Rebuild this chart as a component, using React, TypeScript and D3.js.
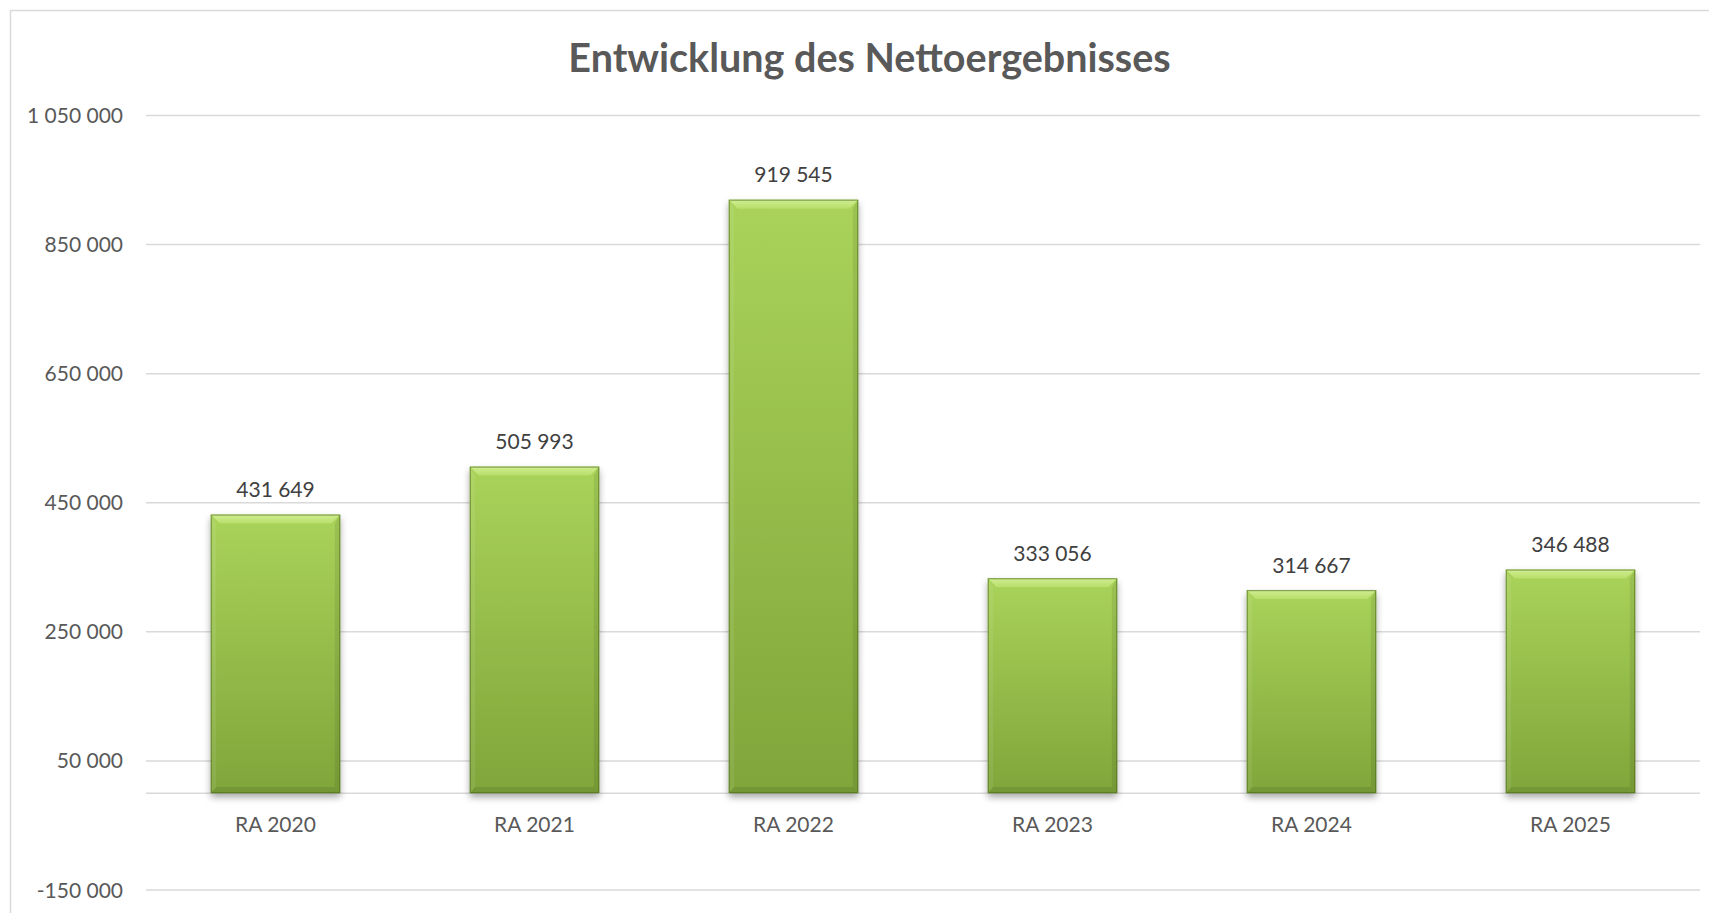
import React from "react";
import * as d3 from "d3";

const categories: string[] = ["RA 2020", "RA 2021", "RA 2022", "RA 2023", "RA 2024", "RA 2025"];
const values: number[] = [431649, 505993, 919545, 333056, 314667, 346488];
const yTicks: number[] = [1050000, 850000, 650000, 450000, 250000, 50000, -150000];
const yDomain: [number, number] = [-150000, 1050000];
const title = "Entwicklung des Nettoergebnisses";

const W = 1709;
const H = 913;
const FONT = "Lato, 'Open Sans', 'Noto Sans', sans-serif";

const fmt = (v: number) => {
  const s = d3.format(",")(v);
  return s.replace(/,/g, "\u00a0").replace(/\u2212/g, "-");
};

export default function App() {
  const plotLeft = 146;
  const plotRight = 1700;
  const x = d3
    .scaleBand<string>()
    .domain(categories)
    .range([plotLeft, plotRight])
    .paddingInner(0.5)
    .paddingOuter(0.25);
  const y = d3.scaleLinear().domain(yDomain).range([890, 115.5]);
  const y0 = y(0);
  const bw = x.bandwidth();
  const b = 9;

  return (
    <svg
      width={W}
      height={H}
      style={{ position: "absolute", left: 0, top: 0, background: "#fff" }}
      xmlns="http://www.w3.org/2000/svg"
    >
      <defs>
        <linearGradient id="barGrad" x1="0" y1="0" x2="0" y2="1">
          <stop offset="0%" stopColor="#a9d35a" />
          <stop offset="100%" stopColor="#80a53a" />
        </linearGradient>
        <linearGradient id="topGrad" x1="0" y1="0" x2="0" y2="1">
          <stop offset="0%" stopColor="#d0ee92" />
          <stop offset="100%" stopColor="#b8de6a" />
        </linearGradient>
        <filter id="shadow" x="-20%" y="-10%" width="140%" height="130%">
          <feDropShadow dx="0" dy="4" stdDeviation="3.5" floodColor="#000" floodOpacity="0.35" />
        </filter>
      </defs>

      <rect x={10.5} y={10.5} width={1740} height={940} fill="#fff" stroke="#d9d9d9" strokeWidth={1.5} />

      <text
        x={869.5}
        y={72}
        textAnchor="middle"
        fontFamily={FONT}
        fontWeight={700}
        fontSize={39.5}
        fill="#595959"
      >
        {title}
      </text>

      {yTicks.map((t) => (
        <g key={t}>
          <line x1={plotLeft} x2={plotRight} y1={y(t)} y2={y(t)} stroke="#d9d9d9" strokeWidth={1.5} />
          <text
            x={123}
            y={y(t) + 7.5}
            textAnchor="end"
            fontFamily={FONT}
            fontSize={21}
            fill="#595959"
          >
            {fmt(t)}
          </text>
        </g>
      ))}

      <line x1={plotLeft} x2={plotRight} y1={y0} y2={y0} stroke="#d9d9d9" strokeWidth={1.5} />

      {categories.map((c, i) => {
        const v = values[i];
        const bx = x(c) as number;
        const top = y(v);
        const h = y0 - top;
        return (
          <g key={c}>
            <g filter="url(#shadow)">
              <rect x={bx} y={top} width={bw} height={h} fill="url(#barGrad)" />
            </g>
            <polygon
              points={`${bx},${top} ${bx + bw},${top} ${bx + bw - b},${top + b} ${bx + b},${top + b}`}
              fill="url(#topGrad)"
            />
            <polygon
              points={`${bx},${top} ${bx + b * 0.6},${top + b} ${bx + b * 0.6},${y0 - b * 0.7} ${bx},${y0}`}
              fill="rgba(255,255,255,0.08)"
            />
            <polygon
              points={`${bx + bw},${top} ${bx + bw - b * 0.6},${top + b} ${bx + bw - b * 0.6},${y0 - b * 0.7} ${bx + bw},${y0}`}
              fill="rgba(0,0,0,0.08)"
            />
            <polygon
              points={`${bx},${y0} ${bx + b * 0.6},${y0 - b * 0.7} ${bx + bw - b * 0.6},${y0 - b * 0.7} ${bx + bw},${y0}`}
              fill="rgba(0,0,0,0.09)"
            />
            <rect
              x={bx + 0.5}
              y={top + 0.5}
              width={bw - 1}
              height={h - 1}
              fill="none"
              stroke="rgba(70,100,25,0.55)"
              strokeWidth={1.2}
            />
            <text
              x={bx + bw / 2}
              y={top - 17.5}
              textAnchor="middle"
              fontFamily={FONT}
              fontSize={21}
              fill="#404040"
            >
              {fmt(v)}
            </text>
            <text
              x={bx + bw / 2}
              y={832}
              textAnchor="middle"
              fontFamily={FONT}
              fontSize={21}
              fill="#595959"
            >
              {c}
            </text>
          </g>
        );
      })}
    </svg>
  );
}
